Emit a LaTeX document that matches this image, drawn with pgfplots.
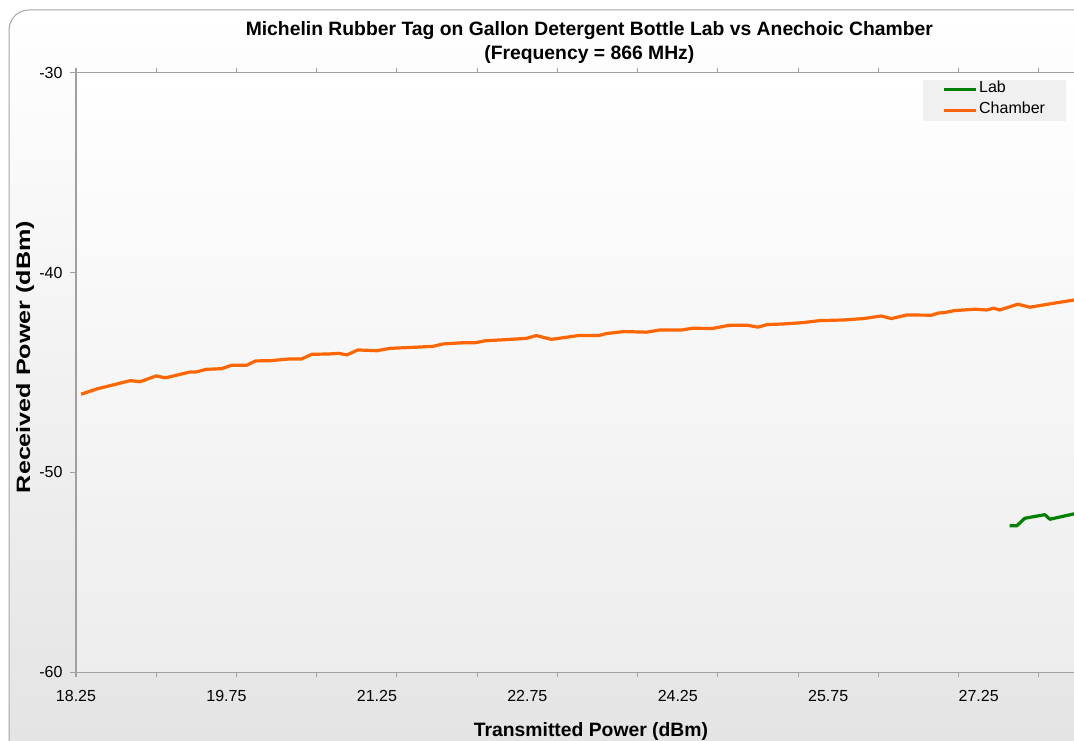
\documentclass[border=0pt]{standalone}
\usepackage{fontspec}
\setmainfont{Liberation Sans}
\usepackage{pgfplots}
\pgfplotsset{compat=1.18}
\definecolor{labgreen}{RGB}{0,128,0}
\definecolor{chamberorange}{RGB}{255,102,0}
\definecolor{axgray}{RGB}{160,160,160}
\begin{document}
\begin{tikzpicture}
\useasboundingbox (0,0) rectangle (805.5pt,555pt);
\fill[white] (0,0) rectangle (805.5pt,555pt);
\clip (0,0) rectangle (805.5pt,555pt);
\draw[draw=black!35, line width=0.75pt, rounded corners=15pt, top color=white, bottom color=black!11] (6.75pt,-22.5pt) rectangle (900pt,547.5pt);
\node[font=\bfseries\fontsize{14.5}{18}\selectfont, align=center] at (442pt,522.75pt) {Michelin Rubber Tag on Gallon Detergent Bottle Lab vs Anechoic Chamber\\(Frequency = 866 MHz)};
\begin{axis}[
  at={(57pt,51pt)}, anchor=south west, scale only axis,
  width=767.25pt, height=449.25pt,
  xmin=18.25, xmax=28.45, ymin=-60, ymax=-30,
  axis background/.style={top color=white, bottom color=black!7},
  axis line style={draw=axgray, line width=0.75pt},
  xtick={18.25,19.75,21.25,22.75,24.25,25.75,27.25},
  xticklabels={18.25,19.75,21.25,22.75,24.25,25.75,27.25},
  minor xtick={18.25,19.05,19.85,20.65,21.45,22.25,23.05,23.85,24.65,25.45,26.25,27.05,27.85},
  ytick={-60,-50,-40,-30},
  yticklabels={-60,-50,-40,-30},
  tick align=outside,
  major tick length=4.5pt, minor tick length=4pt,
  major x tick style={draw=none},
  every tick/.style={draw=axgray, line width=0.75pt},
  tick label style={font=\fontsize{12}{14}\selectfont, text=black},
  xticklabel style={anchor=center, yshift=-13.5pt},
  yticklabel style={anchor=east, inner sep=0pt, xshift=-5.5pt},
  xlabel={Transmitted Power (dBm)},
  ylabel={\scalebox{1.3}[1]{Received Power (dBm)}},
  label style={font=\bfseries\fontsize{14.5}{16}\selectfont},
  xlabel style={at={(axis description cs:0.5034,0)}, anchor=center, yshift=-44.25pt},
  ylabel style={at={(axis description cs:-0.04985,0.526)}, anchor=center},
  legend cell align=left,
  legend image code/.code={\draw[#1] (0pt,0pt) -- (24pt,0pt);},
  legend style={at={(axis description cs:0.828,0.9895)}, anchor=north west,
    fill=black!6, draw=none, inner xsep=14.5pt, inner ysep=0pt, row sep=0pt,
    font=\fontsize{12}{14}\selectfont,
    nodes={inner xsep=1pt, inner ysep=0pt, text height=10pt, text depth=5.5pt}},
]
\addplot[labgreen, line width=2.4pt, line join=round] coordinates {
(27.56,-52.68) (27.63,-52.68) (27.71,-52.30) (27.91,-52.12) (27.96,-52.35) (28.20,-52.08) (28.35,-52.00)
};
\addlegendentry{Lab}
\addplot[chamberorange, line width=2.4pt, line join=round] coordinates {
(18.30,-46.09) (18.46,-45.82) (18.54,-45.72) (18.79,-45.41) (18.89,-45.46)
(19.05,-45.17) (19.14,-45.27) (19.39,-44.97) (19.45,-44.97) (19.55,-44.84)
(19.70,-44.81) (19.80,-44.64) (19.95,-44.64) (20.04,-44.42) (20.18,-44.41)
(20.38,-44.32) (20.50,-44.32) (20.60,-44.09) (20.78,-44.07) (20.87,-44.04)
(20.95,-44.12) (21.06,-43.87) (21.25,-43.91) (21.38,-43.79) (21.61,-43.74)
(21.81,-43.69) (21.91,-43.57) (22.11,-43.51) (22.23,-43.51) (22.33,-43.41)
(22.48,-43.37) (22.74,-43.29) (22.84,-43.15) (22.99,-43.34) (23.26,-43.15)
(23.46,-43.15) (23.54,-43.05) (23.71,-42.95) (23.94,-42.98) (24.07,-42.87)
(24.29,-42.87) (24.40,-42.78) (24.59,-42.80) (24.77,-42.63) (24.94,-42.63)
(25.05,-42.73) (25.14,-42.60) (25.30,-42.57) (25.50,-42.50) (25.67,-42.40)
(25.90,-42.37) (26.10,-42.30) (26.28,-42.17) (26.38,-42.30) (26.53,-42.12)
(26.78,-42.13) (26.85,-42.02) (26.91,-42.00) (27.01,-41.90) (27.21,-41.83)
(27.33,-41.87) (27.40,-41.78) (27.46,-41.87) (27.64,-41.58) (27.76,-41.73)
(28.00,-41.53) (28.20,-41.37) (28.35,-41.30)
};
\addlegendentry{Chamber}
\end{axis}
\end{tikzpicture}
\end{document}
